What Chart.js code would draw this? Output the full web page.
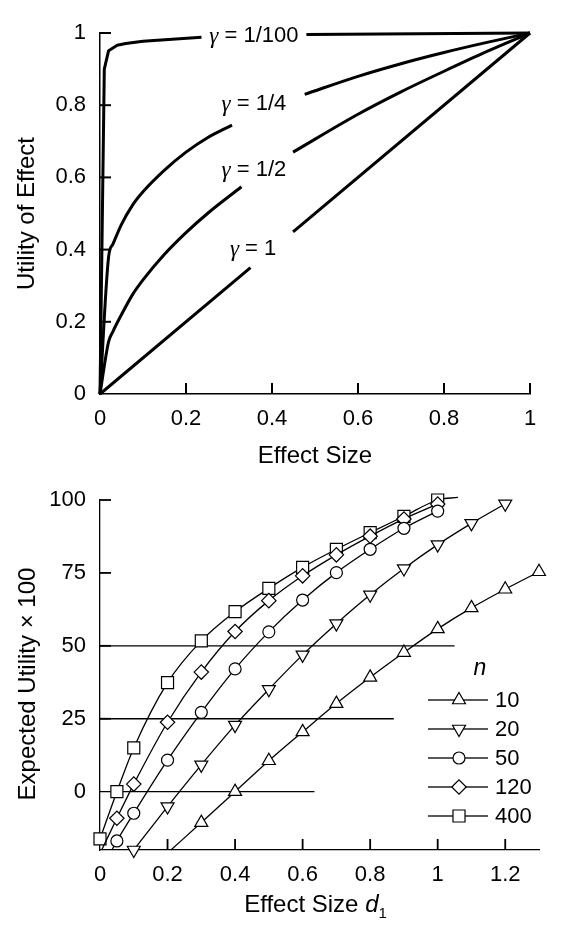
<!DOCTYPE html>
<html>
<head>
<meta charset="utf-8">
<script src="https://cdn.jsdelivr.net/npm/chart.js@4/dist/chart.umd.min.js"></script>
<style>
  body { margin: 0; background: #fff; }
  canvas { display: block; }
</style>
</head>
<body>
<canvas id="utilChart" width="570" height="470"></canvas>
<canvas id="expChart" width="570" height="472"></canvas>
<script>
// ---------- DATA: top panel (utility curves) ----------
const gammaNames = ["1/100", "1/4", "1/2", "1"];
// null = gap in the curve where the label sits
const util100X = [0, 0.01, 0.02, 0.04, 0.06, 0.1, 0.236, 0.36, 0.48, 1];
const util100Y = [0, 0.9, 0.951, 0.966, 0.971, 0.977, 0.988, null, 0.996, 1];
const util4X = [0, 0.02, 0.03, 0.05, 0.075, 0.1, 0.15, 0.2, 0.25, 0.307, 0.4, 0.476, 0.6, 0.7, 0.8, 0.9, 1];
const util4Y = [0, 0.38, 0.415, 0.47, 0.522, 0.56, 0.62, 0.67, 0.71, 0.745, null, 0.83, 0.88, 0.915, 0.946, 0.974, 1];
const util2X = [0, 0.02, 0.03, 0.05, 0.075, 0.1, 0.15, 0.2, 0.25, 0.329, 0.39, 0.449, 0.6, 0.7, 0.8, 0.9, 1];
const util2Y = [0, 0.145, 0.173, 0.22, 0.274, 0.316, 0.387, 0.447, 0.5, 0.574, null, 0.67, 0.775, 0.837, 0.894, 0.949, 1];
const util1X = [0, 0.35, 0.4, 0.449, 1];
const util1Y = [0, 0.35, null, 0.449, 1];
// where each gamma label is centred (data units)
const gammaLabelX = [0.358, 0.358, 0.358, 0.356];
const gammaLabelY = [0.993, 0.804, 0.62, 0.403];
const topXTicks = [0, 0.2, 0.4, 0.6, 0.8, 1];
const topYTicks = [0, 0.2, 0.4, 0.6, 0.8, 1];

// ---------- DATA: bottom panel (expected utility) ----------
const nLabels = ["10", "20", "50", "120", "400"];
const d10 = [0.3, 0.4, 0.5, 0.6, 0.7, 0.8, 0.9, 1.0, 1.1, 1.2, 1.3];
const eu10 = [-10.6, 0, 10.6, 20.5, 30.2, 39.2, 47.7, 55.8, 63, 69.4, 75.4];
const d20 = [0.1, 0.2, 0.3, 0.4, 0.5, 0.6, 0.7, 0.8, 0.9, 1.0, 1.1, 1.2];
const eu20 = [-20, -5.1, 9.2, 22.8, 35.1, 46.9, 57.6, 67.5, 76.5, 84.7, 92, 98.7];
const d50 = [0.05, 0.1, 0.2, 0.3, 0.4, 0.5, 0.6, 0.7, 0.8, 0.9, 1.0];
const eu50 = [-16.9, -7.4, 10.8, 27.2, 42.1, 54.8, 65.7, 75.1, 83.1, 90.3, 96.2];
const d120 = [0.05, 0.1, 0.2, 0.3, 0.4, 0.5, 0.6, 0.7, 0.8, 0.9, 1.0];
const eu120 = [-9.1, 2.6, 23.8, 41, 54.9, 65.5, 74, 81.2, 87.6, 93.5, 98.6];
const d400 = [0, 0.05, 0.1, 0.2, 0.3, 0.4, 0.5, 0.6, 0.7, 0.8, 0.9, 1.0];
const eu400 = [-16.2, 0, 15, 37.4, 51.7, 61.7, 69.7, 76.9, 83.1, 88.8, 94.4, 100];
// line ends that carry no marker
const tailStartX = [0.21, null, 0.035, 0.005, null];
const tailStartY = [-20, null, -20, -20, null];
const tailEndX = [null, null, null, null, 1.06];
const tailEndY = [null, null, null, null, 100.9];
// horizontal reference lines
const refLevels = [50, 25, 0];
const refEnds = [1.05, 0.87, 0.635];
const botXTicks = [0, 0.2, 0.4, 0.6, 0.8, 1, 1.2];
const botYTicks = [0, 25, 50, 75, 100];

// ---------- STYLE ----------
const SANS = "'Liberation Sans', Arial, Helvetica, sans-serif";
const SERIF = "'Liberation Serif', 'Times New Roman', serif";
const TICK_FONT = { family: SANS, size: 22 };
const markerStyles = [
  { pointStyle: "triangle", rotation: 0, radius: 7.5 },
  { pointStyle: "triangle", rotation: 180, radius: 7.5 },
  { pointStyle: "circle", rotation: 0, radius: 6 },
  { pointStyle: "rectRot", rotation: 0, radius: 7.2 },
  { pointStyle: "rect", rotation: 0, radius: 8.5 }
];

function toPoints(xs, ys) {
  return xs.map((x, i) => ({ x: x, y: ys[i] }));
}

// short tick marks pointing into the plot
function innerTicks(ctx, scale, values, len, horizontal, other, w) {
  values.forEach(v => {
    const p = scale.getPixelForValue(v);
    if (horizontal) ctx.fillRect(p - w / 2, other - len, w, len);
    else ctx.fillRect(other, p - w / 2, len, w);
  });
}

function drawMarker(ctx, m, x, y) {
  if (Chart.helpers && Chart.helpers.drawPoint) {
    Chart.helpers.drawPoint(ctx, { pointStyle: m.pointStyle, rotation: m.rotation, radius: m.radius, borderWidth: 1.2 }, x, y);
  }
}

// ---------- TOP CHART ----------
const utilDecor = {
  id: "utilDecor",
  afterDraw(chart) {
    const ctx = chart.ctx;
    const xs = chart.scales.x, ys = chart.scales.y, area = chart.chartArea;
    ctx.save();
    ctx.fillStyle = "#000";
    innerTicks(ctx, xs, topXTicks.slice(1), 11, true, area.bottom, 2);
    innerTicks(ctx, ys, topYTicks.slice(1), 11, false, area.left, 2);

    // gamma labels
    ctx.textBaseline = "middle";
    ctx.textAlign = "left";
    gammaNames.forEach((g, i) => {
      const cx = xs.getPixelForValue(gammaLabelX[i]);
      const cy = ys.getPixelForValue(gammaLabelY[i]);
      ctx.font = "italic 23px " + SERIF;
      const wg = ctx.measureText("\u03b3").width;
      ctx.font = "22px " + SANS;
      const rest = " = " + g;
      const wr = ctx.measureText(rest).width;
      const sx = cx - (wg + wr) / 2;
      ctx.font = "italic 23px " + SERIF;
      ctx.fillText("\u03b3", sx, cy + 1);
      ctx.font = "22px " + SANS;
      ctx.fillText(rest, sx + wg, cy);
    });

    // axis titles
    ctx.font = "24px " + SANS;
    ctx.textAlign = "center";
    ctx.fillText("Effect Size", (area.left + area.right) / 2, 456);
    ctx.translate(27, (area.top + area.bottom) / 2);
    ctx.rotate(-Math.PI / 2);
    ctx.fillText("Utility of Effect", 0, 0);
    ctx.restore();
  }
};

const curveSets = [
  toPoints(util100X, util100Y),
  toPoints(util4X, util4Y),
  toPoints(util2X, util2Y),
  toPoints(util1X, util1Y)
];

new Chart(document.getElementById("utilChart"), {
  type: "line",
  data: {
    datasets: curveSets.map((pts, i) => ({
      label: "gamma " + gammaNames[i],
      data: pts,
      borderColor: "#000",
      borderWidth: 3,
      pointRadius: 0,
      cubicInterpolationMode: i === 1 || i === 2 ? "monotone" : "default",
      tension: 0,
      borderJoinStyle: "round",
      spanGaps: false,
      clip: false
    }))
  },
  options: {
    responsive: false,
    animation: false,
    layout: { padding: { top: 33, right: 40, left: 0, bottom: 0 } },
    plugins: { legend: { display: false }, tooltip: { enabled: false } },
    scales: {
      x: {
        type: "linear", min: 0, max: 1,
        grid: { display: false, drawTicks: false },
        border: { display: true, color: "#000", width: 1.5 },
        afterBuildTicks: s => { s.ticks = topXTicks.map(v => ({ value: v })); },
        afterFit: s => { s.height = 76; },
        ticks: { color: "#000", font: TICK_FONT, padding: 12, maxRotation: 0, callback: v => String(v) }
      },
      y: {
        type: "linear", min: 0, max: 1,
        grid: { display: false, drawTicks: false },
        border: { display: true, color: "#000", width: 1.5 },
        afterBuildTicks: s => { s.ticks = topYTicks.map(v => ({ value: v })); },
        afterFit: s => { s.width = 100; },
        ticks: { color: "#000", font: TICK_FONT, padding: 14, callback: v => String(v) }
      }
    }
  },
  plugins: [utilDecor]
});

// ---------- BOTTOM CHART ----------
const expDecor = {
  id: "expDecor",
  afterDraw(chart) {
    const ctx = chart.ctx;
    const xs = chart.scales.x, ys = chart.scales.y, area = chart.chartArea;
    ctx.save();
    ctx.fillStyle = "#000";
    innerTicks(ctx, xs, botXTicks.slice(1), 11, true, area.bottom, 1.8);
    innerTicks(ctx, ys, botYTicks.slice(1), 11, false, area.left, 1.8);

    // legend
    ctx.textBaseline = "middle";
    ctx.font = "italic 23px " + SANS;
    ctx.textAlign = "center";
    ctx.fillText("n", 480, 199);
    ctx.textAlign = "left";
    nLabels.forEach((lab, i) => {
      const ly = 230 + i * 29;
      ctx.fillStyle = "#000";
      ctx.fillRect(428, ly - 0.65, 60, 1.3);
      ctx.strokeStyle = "#000";
      ctx.fillStyle = "#fff";
      drawMarker(ctx, markerStyles[i], 459, ly);
      ctx.fillStyle = "#000";
      ctx.font = "22px " + SANS;
      ctx.fillText(lab, 495, ly + 1);
    });

    // axis titles
    ctx.fillStyle = "#000";
    ctx.textAlign = "left";
    ctx.textBaseline = "alphabetic";
    ctx.font = "24px " + SANS;
    const t1 = "Effect Size ";
    const w1 = ctx.measureText(t1).width;
    ctx.font = "italic 24px " + SANS;
    const w2 = ctx.measureText("d").width;
    ctx.font = "15px " + SANS;
    const w3 = ctx.measureText("1").width;
    const sx = (area.left + area.right) / 2 - (w1 + w2 + w3) / 2 - 4;
    const by = 442;
    ctx.font = "24px " + SANS;
    ctx.fillText(t1, sx, by);
    ctx.font = "italic 24px " + SANS;
    ctx.fillText("d", sx + w1, by);
    ctx.font = "15px " + SANS;
    ctx.fillText("1", sx + w1 + w2, by + 6);

    ctx.textAlign = "center";
    ctx.textBaseline = "middle";
    ctx.font = "24px " + SANS;
    ctx.translate(28, 214);
    ctx.rotate(-Math.PI / 2);
    ctx.fillText("Expected Utility \u00d7 100", 0, 0);
    ctx.restore();
  }
};

const seriesX = [d10, d20, d50, d120, d400];
const seriesY = [eu10, eu20, eu50, eu120, eu400];

const nSets = nLabels.map((lab, i) => {
  let pts = toPoints(seriesX[i], seriesY[i]);
  if (tailStartX[i] != null) pts = [{ x: tailStartX[i], y: tailStartY[i], tail: true }].concat(pts);
  if (tailEndX[i] != null) pts = pts.concat([{ x: tailEndX[i], y: tailEndY[i], tail: true }]);
  const m = markerStyles[i];
  return {
    label: "n = " + lab,
    data: pts,
    borderColor: "#000",
    borderWidth: 1.3,
    backgroundColor: "#fff",
    pointBackgroundColor: "#fff",
    pointBorderColor: "#000",
    pointBorderWidth: 1.2,
    pointStyle: m.pointStyle,
    rotation: m.rotation,
    pointRadius: ctx => (ctx.raw && ctx.raw.tail ? 0 : m.radius),
    cubicInterpolationMode: "monotone",
    clip: false
  };
});

const refSets = refLevels.map((lv, i) => ({
  label: "ref " + lv,
  data: [{ x: 0, y: lv }, { x: refEnds[i], y: lv }],
  borderColor: "#000",
  borderWidth: 1.3,
  pointRadius: 0,
  tension: 0
}));

new Chart(document.getElementById("expChart"), {
  type: "line",
  data: { datasets: nSets.concat(refSets) },
  options: {
    responsive: false,
    animation: false,
    layout: { padding: { top: 30, right: 31, left: 0, bottom: 0 } },
    plugins: { legend: { display: false }, tooltip: { enabled: false } },
    scales: {
      x: {
        type: "linear", min: 0, max: 1.3,
        grid: { display: false, drawTicks: false },
        border: { display: true, color: "#000", width: 1.3 },
        afterBuildTicks: s => { s.ticks = botXTicks.map(v => ({ value: v })); },
        afterFit: s => { s.height = 92; },
        ticks: { color: "#000", font: TICK_FONT, padding: 12, maxRotation: 0, callback: v => String(v) }
      },
      y: {
        type: "linear", min: -20, max: 100,
        grid: { display: false, drawTicks: false },
        border: { display: true, color: "#000", width: 1.3 },
        afterBuildTicks: s => { s.ticks = botYTicks.map(v => ({ value: v })); },
        afterFit: s => { s.width = 100; },
        ticks: { color: "#000", font: TICK_FONT, padding: 14, callback: v => String(v) }
      }
    }
  },
  plugins: [expDecor]
});
</script>
</body>
</html>
